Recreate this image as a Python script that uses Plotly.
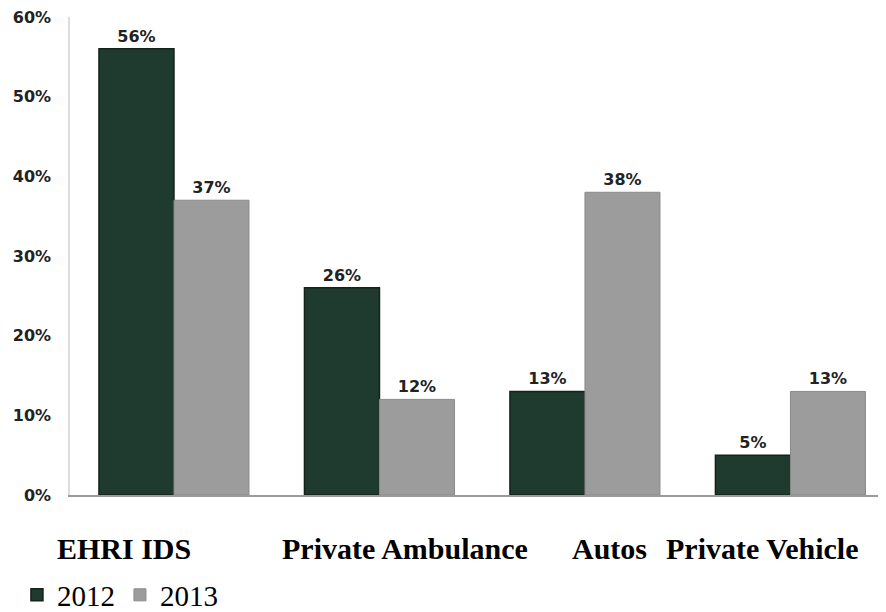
import plotly.graph_objects as go

categories = ["EHRI IDS", "Private Ambulance", "Autos", "Private Vehicle"]
values_2012 = [56, 26, 13, 5]
values_2013 = [37, 12, 38, 13]
series_names = ["2012", "2013"]
y_ticks = [0, 10, 20, 30, 40, 50, 60]
y_tick_labels = ["0%", "10%", "20%", "30%", "40%", "50%", "60%"]

label_font = dict(family="DejaVu Sans", size=16, color="#222222")

fig = go.Figure()
fig.add_trace(go.Bar(
    x=categories, y=values_2012, name=series_names[0],
    marker=dict(color="#1f3a2f", line=dict(color="#152219", width=1.5)),
    texttemplate="<b>%{y}%</b>", textposition="outside", textfont=label_font,
    cliponaxis=False,
))
fig.add_trace(go.Bar(
    x=categories, y=values_2013, name=series_names[1],
    marker=dict(color="#9c9c9c", line=dict(color="#8a8a8a", width=1)),
    texttemplate="<b>%{y}%</b>", textposition="outside", textfont=label_font,
    cliponaxis=False,
))

# category captions (offset text like the original)
caption_x = [124, 405, 609, 762]
for cat, px in zip(categories, caption_x):
    fig.add_annotation(
        x=(px - 70) / 816, y=(495 - 548) / 478, xref="paper", yref="paper",
        text=f"<b>{cat}</b>", showarrow=False,
        font=dict(family="Liberation Serif", size=30, color="#000000"),
        xanchor="center", yanchor="middle",
    )

fig.update_layout(
    width=878, height=604,
    margin=dict(l=62, r=0, t=9, b=117, autoexpand=False),
    plot_bgcolor="white", paper_bgcolor="white",
    barmode="group", bargap=0.27, bargroupgap=0.0,
    showlegend=True,
    legend=dict(
        orientation="h", x=-0.065, y=(495 - 595) / 478, xanchor="left", yanchor="middle",
        font=dict(family="Liberation Serif", size=29, color="#000000"),
        itemwidth=30, tracegroupgap=0, bgcolor="rgba(0,0,0,0)",
    ),
    xaxis=dict(
        range=[-0.506, 3.465], showticklabels=False, showgrid=False,
        showline=True, linecolor="#9a9a9a", linewidth=1.5, ticks="",
        zeroline=False,
    ),
    yaxis=dict(
        range=[0, 60], tickvals=y_ticks, ticktext=y_tick_labels,
        showgrid=False, zeroline=False, showline=True, linecolor="#dddddd",
        linewidth=1.5, ticks="", ticklabelstandoff=14, ticklabeloverflow="allow",
        tickfont=dict(family="DejaVu Sans", size=16, color="#222222", weight="bold"),
    ),
)

fig.write_html("out.html")
